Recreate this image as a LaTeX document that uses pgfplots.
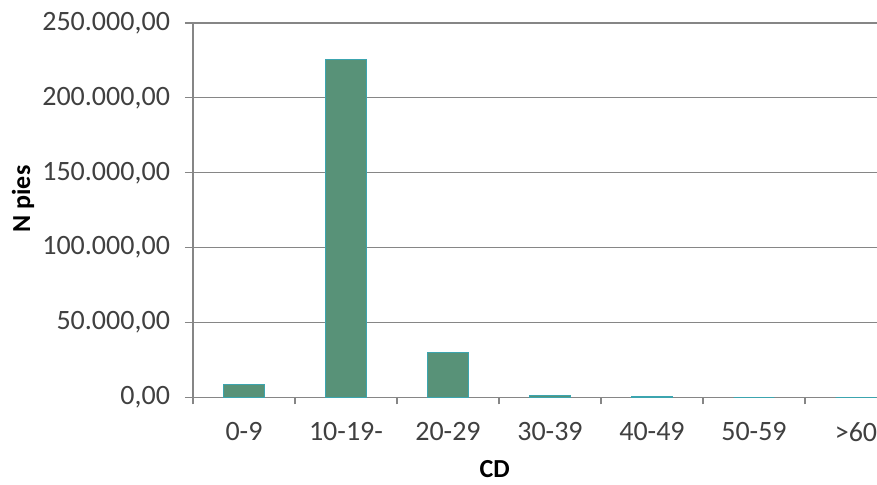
\documentclass[border=0pt]{standalone}
\usepackage{pgfplots}
\pgfplotsset{compat=1.18}
\usepackage{fontspec}
\setmainfont{Carlito}
\definecolor{barfill}{RGB}{88,146,120}
\definecolor{baredge}{RGB}{60,165,175}
\definecolor{gridc}{RGB}{134,134,134}
\definecolor{labc}{RGB}{64,64,64}
\begin{document}
\begin{tikzpicture}
\begin{axis}[
  scale only axis,
  width=342pt, height=187.25pt,
  xmin=-0.5, xmax=6.206,
  ymin=0, ymax=250000,
  ytick={0,50000,100000,150000,200000,250000},
  scaled y ticks=false,
  /pgf/number format/.cd, fixed, fixed zerofill, precision=2, use comma, 1000 sep={.}, assume math mode=true,
  /pgfplots/.cd,
  xtick={0,1,2,3,4,5,6},
  xticklabels={0-9,10-19-,20-29,30-39,40-49,50-59,>60},
  minor xtick={-0.5,0.5,1.5,2.5,3.5,4.5,5.5,6.5},
  major x tick style={draw=none},
  minor tick length=3.5pt,
  major tick length=4pt,
  tick align=outside,
  tick pos=left,
  axis x line*=bottom,
  axis y line*=left,
  axis line style={gridc, line width=0.6pt},
  tick style={gridc, line width=0.6pt},
  ymajorgrids,
  grid style={gridc, line width=0.6pt},
  ticklabel style={font=\fontsize{14}{16}\selectfont, text=labc},
  xticklabel style={yshift=-5pt},
  yticklabel style={xshift=-4pt},
  xlabel={\textbf{CD}},
  ylabel={\textbf{N pies}},
  label style={font=\fontsize{13}{15}\selectfont},
  xlabel style={at={(axis description cs:0.441,0)}, anchor=north, yshift=-28pt},
  ylabel style={at={(axis description cs:-0.2485,0.53)}, anchor=center},
  clip=false,
]
\addplot[ybar, bar width=0.4, fill=barfill, draw=baredge, line width=0.6pt] coordinates {
  (0,8800) (1,225500) (2,30200) (3,1100) (4,900) (5,0) (6,0)
};
\end{axis}
\pgfresetboundingbox
\path[use as bounding box] (-96.5pt,-43.75pt) rectangle (342pt,198.75pt);
\end{tikzpicture}
\end{document}
